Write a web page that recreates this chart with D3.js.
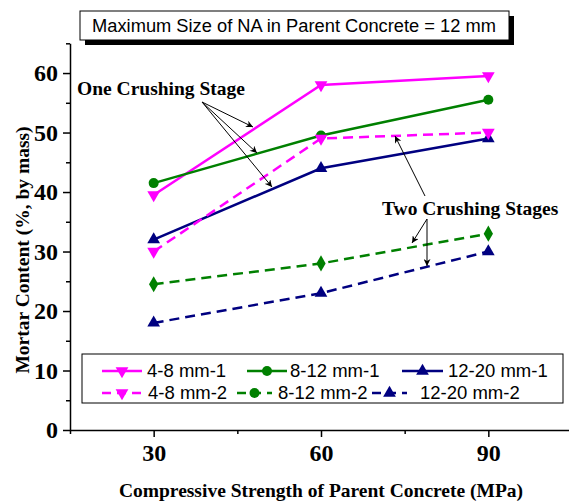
<!DOCTYPE html>
<html>
<head>
<meta charset="utf-8">
<script src="https://cdn.jsdelivr.net/npm/d3@7"></script>
<style>
  body { margin: 0; background: #fff; }
  svg { display: block; }
</style>
</head>
<body>
<svg width="569" height="503"></svg>
<script>
// data
const strengths = [30, 60, 90];
const xTicks = [30, 60, 90];
const yTicks = [0, 10, 20, 30, 40, 50, 60];

const seriesNames = ["4-8 mm-1", "8-12 mm-1", "12-20 mm-1", "4-8 mm-2", "8-12 mm-2", "12-20 mm-2"];
const fine1 = [39.5, 58, 59.5];
const mid1 = [41.5, 49.5, 55.5];
const coarse1 = [32, 44, 49];
const fine2 = [30, 49, 50];
const mid2 = [24.5, 28, 33];
const coarse2 = [18, 23, 30];

const series = [
  { name: seriesNames[0], values: fine1, color: "#ff00ff", dash: null, sym: "down" },
  { name: seriesNames[1], values: mid1, color: "#008000", dash: null, sym: "circle" },
  { name: seriesNames[2], values: coarse1, color: "#000080", dash: null, sym: "up" },
  { name: seriesNames[3], values: fine2, color: "#ff00ff", dash: "10,6", sym: "down" },
  { name: seriesNames[4], values: mid2, color: "#008000", dash: "10,6", sym: "diamond", legendSym: "circle" },
  { name: seriesNames[5], values: coarse2, color: "#000080", dash: "10,6", sym: "up" }
];

const svg = d3.select("svg");
const serif = "'Liberation Serif', 'Times New Roman', serif";
const sans = "'Liberation Sans', Arial, sans-serif";

const x = d3.scaleLinear().domain([15, 105]).range([70, 572]);
const y = d3.scaleLinear().domain([0, 65]).range([430, 43.3]);

// axes
const xAxis = svg.append("g")
  .attr("transform", "translate(0,430)")
  .call(d3.axisBottom(x).tickValues(xTicks).tickSize(7).tickSizeOuter(0).tickPadding(5));
xAxis.append("g").call(d3.axisBottom(x).tickValues([15, 45, 75]).tickSize(4).tickFormat(""))
  .select(".domain").remove();

const yAxis = svg.append("g")
  .attr("transform", "translate(70,0)")
  .call(d3.axisLeft(y).tickValues(yTicks).tickSize(7).tickSizeOuter(0).tickPadding(5));
yAxis.append("g").call(d3.axisLeft(y).tickValues([5, 15, 25, 35, 45, 55, 65]).tickSize(4).tickFormat(""))
  .select(".domain").remove();

svg.selectAll(".domain, .tick line").attr("stroke", "#000").attr("stroke-width", 1.5);
svg.selectAll(".tick text")
  .attr("font-family", serif).attr("font-weight", "bold").attr("font-size", 24).attr("fill", "#000");
xAxis.selectAll(".tick text").attr("dy", "0.8em");

// axis titles
svg.append("text")
  .attr("x", 321).attr("y", 497)
  .attr("text-anchor", "middle")
  .attr("font-family", serif).attr("font-weight", "bold").attr("font-size", 19.5)
  .text("Compressive Strength of Parent Concrete (MPa)");
svg.append("text")
  .attr("transform", "translate(29,250) rotate(-90)")
  .attr("text-anchor", "middle")
  .attr("font-family", serif).attr("font-weight", "bold").attr("font-size", 19.5)
  .text("Mortar Content (%, by mass)");

// symbols
function marker(g, sym, color, cx, cy) {
  let p;
  if (sym === "circle") {
    p = g.append("circle").attr("r", 5).attr("cx", cx).attr("cy", cy);
  } else {
    const shape = sym === "diamond" ? d3.symbolDiamond : d3.symbolTriangle;
    const size = sym === "diamond" ? 75 : 70;
    p = g.append("path").attr("d", d3.symbol().type(shape).size(size)())
      .attr("transform", `translate(${cx},${cy})` + (sym === "down" ? " rotate(180)" : ""));
  }
  p.attr("fill", color);
}

const line = d3.line().x((d, i) => x(strengths[i])).y(d => y(d));

series.forEach(s => {
  const g = svg.append("g");
  g.append("path")
    .attr("d", line(s.values))
    .attr("fill", "none")
    .attr("stroke", s.color)
    .attr("stroke-width", 2.5)
    .attr("stroke-dasharray", s.dash);
  s.values.forEach((v, i) => marker(g, s.sym, s.color, x(strengths[i]), y(v)));
});

// title box with shadow
svg.append("rect").attr("x", 85).attr("y", 16).attr("width", 429).attr("height", 29).attr("fill", "#000");
svg.append("rect").attr("x", 80).attr("y", 11).attr("width", 429).attr("height", 29)
  .attr("fill", "#fff").attr("stroke", "#000").attr("stroke-width", 1);
svg.append("text")
  .attr("x", 294).attr("y", 32).attr("text-anchor", "middle")
  .attr("font-family", sans).attr("font-size", 18.3)
  .text("Maximum Size of NA in Parent Concrete = 12 mm");

// annotations
svg.append("defs").append("marker")
  .attr("id", "arr").attr("viewBox", "0 0 10 10").attr("refX", 10).attr("refY", 5)
  .attr("markerWidth", 9).attr("markerHeight", 7).attr("markerUnits", "userSpaceOnUse")
  .attr("orient", "auto")
  .append("path").attr("d", "M0,0 L10,5 L0,10 L3,5 Z").attr("fill", "#000");

svg.append("text")
  .attr("x", 77).attr("y", 95)
  .attr("font-family", serif).attr("font-weight", "bold").attr("font-size", 19.5)
  .text("One Crushing Stage");
[[253, 127], [257, 153], [272, 187]].forEach(([ex, ey]) => {
  svg.append("line").attr("x1", 202).attr("y1", 102).attr("x2", ex).attr("y2", ey)
    .attr("stroke", "#000").attr("stroke-width", 1).attr("marker-end", "url(#arr)");
});

svg.append("text")
  .attr("x", 382).attr("y", 215)
  .attr("font-family", serif).attr("font-weight", "bold").attr("font-size", 19.5)
  .text("Two Crushing Stages");
svg.append("line").attr("x1", 425).attr("y1", 196).attr("x2", 395).attr("y2", 136)
  .attr("stroke", "#000").attr("stroke-width", 1).attr("marker-end", "url(#arr)");
[[412, 243], [427, 266]].forEach(([ex, ey]) => {
  svg.append("line").attr("x1", 427).attr("y1", 219).attr("x2", ex).attr("y2", ey)
    .attr("stroke", "#000").attr("stroke-width", 1).attr("marker-end", "url(#arr)");
});

// legend
const legend = svg.append("g");
legend.append("rect").attr("x", 82).attr("y", 354).attr("width", 481).attr("height", 49)
  .attr("fill", "#fff").attr("stroke", "#000").attr("stroke-width", 1);
const legendPos = [
  { x1: 102, x2: 142, tx: 147, y: 371 },
  { x1: 247, x2: 287, tx: 290, y: 371 },
  { x1: 402, x2: 443, tx: 448, y: 371 },
  { x1: 102, x2: 142, tx: 148, y: 393 },
  { x1: 237, x2: 272, tx: 278, y: 393 },
  { x1: 372, x2: 407, tx: 420, y: 393 }
];
series.forEach((s, i) => {
  const p = legendPos[i];
  legend.append("line").attr("x1", p.x1).attr("x2", p.x2).attr("y1", p.y).attr("y2", p.y)
    .attr("stroke", s.color).attr("stroke-width", 2.5).attr("stroke-dasharray", s.dash ? "9,6" : null);
  marker(legend, s.legendSym || s.sym, s.color, (p.x1 + p.x2) / 2, p.y);
  legend.append("text").attr("x", p.tx).attr("y", p.y + 6)
    .attr("font-family", sans).attr("font-size", 18.5)
    .text(s.name);
});
</script>
</body>
</html>
